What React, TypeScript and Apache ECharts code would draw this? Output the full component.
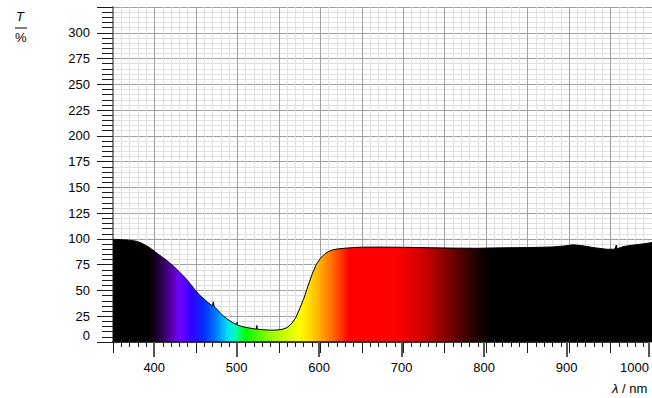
import React, { useEffect, useRef } from 'react';
import * as echarts from 'echarts';

// Wavelength (nm) and transmission (%)
const wavelengths = [
  350, 360, 370, 378, 384, 390, 395, 400, 405, 410, 415, 420, 425, 430, 435, 440, 445, 450, 455, 460,
  465, 470, 471, 472, 475, 480, 485, 490, 495, 499, 499.5, 500, 505, 510, 515, 520, 523, 523.5, 524, 530,
  535, 540, 545, 550, 555, 560, 565, 570, 575, 580, 585, 590, 595, 600, 605, 610, 615, 620, 630, 640,
  650, 670, 700, 730, 760, 790, 810, 850, 880, 895, 905, 915, 930, 945, 955, 957, 958, 965, 975, 990, 1000,
];
const transmission = [
  99.6, 99.3, 98.8, 97.8, 96, 93.5, 91, 88, 85, 82, 79, 75.5, 72, 68, 64, 59.5, 54.5, 49.5, 45, 41.5,
  38, 35, 39, 34.5, 32, 27.5, 24, 21, 18.5, 17, 19, 16.5, 15.2, 14.2, 13.5, 12.8, 12.5, 16, 12.4, 12,
  11.7, 11.5, 11.5, 11.8, 12.5, 14, 17.5, 23, 32, 42, 54, 65.5, 75, 81, 85.2, 87.8, 89.3, 90.2, 91, 91.6,
  92, 92.1, 91.9, 91.5, 91.1, 90.9, 91.3, 91.6, 92.2, 93.2, 94.3, 93.5, 91.5, 90, 90, 94, 90.3, 92.5, 93.8, 95.2, 96.5,
];

const xTickLabels = [400, 500, 600, 700, 800, 900, 1000];
const yTickLabels = [0, 25, 50, 75, 100, 125, 150, 175, 200, 225, 250, 275, 300];

// spectral colour stops for the fill
const spectrumWavelengths = [350, 393, 405, 418, 430, 445, 460, 475, 488, 498, 510, 540, 575, 595, 615, 635, 690, 725, 760, 790, 805, 1000];
const spectrumColours = [
  '#000000', '#000000', '#1e0033', '#50009a', '#7000ff', '#3000ff', '#0030ff', '#0080ff', '#00e0ff', '#00ffb0',
  '#00ff00', '#99ff00', '#ffff00', '#ffc000', '#ff6a00', '#ff0000', '#ff0000', '#cc0000', '#6e0000', '#1a0000',
  '#000000', '#000000',
];

const X_MIN = 350;
const X_MAX = 1000;
const Y_MIN = 0;
const Y_MAX = 325;

export default function App() {
  const ref = useRef<HTMLDivElement>(null);
  useEffect(() => {
    if (!ref.current) return;
    const chart = echarts.init(ref.current, undefined, { renderer: 'svg' });
    const font = 'Liberation Sans, Arial, Helvetica, sans-serif';
    const gridRect = { left: 113, right: 0, top: 7, bottom: 56, containLabel: false };
    const stops = spectrumWavelengths.map((w, i) => ({
      offset: (w - X_MIN) / (X_MAX - X_MIN),
      color: spectrumColours[i],
    }));
    const data = wavelengths.map((w, i) => [w, transmission[i]]);
    const tickColor = '#1a1a1a';

    const baseX = { type: 'value', min: X_MIN, max: X_MAX, axisLabel: { show: false }, axisLine: { show: false } };
    const baseY = { type: 'value', min: Y_MIN, max: Y_MAX, axisLabel: { show: false }, axisLine: { show: false } };

    chart.setOption({
      animation: false,
      backgroundColor: '#ffffff',
      grid: [gridRect, gridRect, gridRect],
      xAxis: [
        {
          ...baseX, gridIndex: 0, interval: 10,
          axisTick: { show: true, length: 5, lineStyle: { color: tickColor, width: 1 } },
          splitLine: { show: true, lineStyle: { color: '#e0e0e0', width: 1 } },
        },
        {
          ...baseX, gridIndex: 1, interval: 50,
          axisTick: { show: true, length: 11, lineStyle: { color: tickColor, width: 1 } },
          splitLine: { show: true, lineStyle: { color: '#a0a0a0', width: 1 } },
        },
        {
          ...baseX, gridIndex: 2, interval: 50, z: 5,
          axisLine: { show: true, onZero: false, lineStyle: { color: '#111', width: 1.5 } },
          axisTick: { show: true, length: 15, customValues: xTickLabels, lineStyle: { color: '#555', width: 2 } },
          splitLine: { show: false },
          axisLabel: {
            show: true, margin: 19, color: '#000', fontSize: 13, fontFamily: font,
            customValues: xTickLabels,
            alignMaxLabel: 'right',
            formatter: (v: number) => String(v),
          },
        },
      ],
      yAxis: [
        {
          ...baseY, gridIndex: 0, interval: 5,
          axisTick: { show: true, length: 11, lineStyle: { color: tickColor, width: 1 } },
          splitLine: { show: true, lineStyle: { color: '#e0e0e0', width: 1 } },
        },
        {
          ...baseY, gridIndex: 1, interval: 25,
          axisLine: { show: true, onZero: false, lineStyle: { color: '#8a8a8a', width: 2 } },
          axisTick: { show: true, length: 16, lineStyle: { color: tickColor, width: 1 } },
          splitLine: { show: true, lineStyle: { color: '#a0a0a0', width: 1 } },
          axisLabel: {
            show: true, margin: 23, color: '#000', fontSize: 13, fontFamily: font,
            formatter: (v: number) => (v === 0 ? '{z|0}' : yTickLabels.includes(v) ? String(v) : ''),
            rich: { z: { fontSize: 13, fontFamily: font, color: '#000', padding: [0, 0, 13, 0] } },
          },
        },
        { ...baseY, gridIndex: 2, show: false },
      ],
      series: [
        {
          type: 'line',
          xAxisIndex: 0,
          yAxisIndex: 0,
          data,
          symbol: 'none',
          smooth: false,
          lineStyle: { color: '#000', width: 1 },
          areaStyle: { origin: 'start', opacity: 1, color: new echarts.graphic.LinearGradient(0, 0, 1, 0, stops) },
          z: 2,
        },
      ],
      graphic: [
        { type: 'text', left: 16, top: 10, style: { text: 'T', fontSize: 13, fontStyle: 'italic', fontFamily: font, fill: '#000' } },
        { type: 'line', shape: { x1: 15, y1: 28, x2: 27, y2: 28 }, style: { stroke: '#000', lineWidth: 1 } },
        { type: 'text', left: 15, top: 31, style: { text: '%', fontSize: 13, fontFamily: font, fill: '#000' } },
        {
          type: 'text', left: 612, top: 382,
          style: {
            text: '{i|λ} / nm', fontSize: 13, fontFamily: font, fill: '#000',
            rich: { i: { fontStyle: 'italic', fontSize: 13, fontFamily: font, fill: '#000' } },
          },
        },
      ],
    });
    return () => chart.dispose();
  }, []);
  return <div ref={ref} style={{ position: 'fixed', left: 0, top: 0, width: 652, height: 398 }} />;
}
